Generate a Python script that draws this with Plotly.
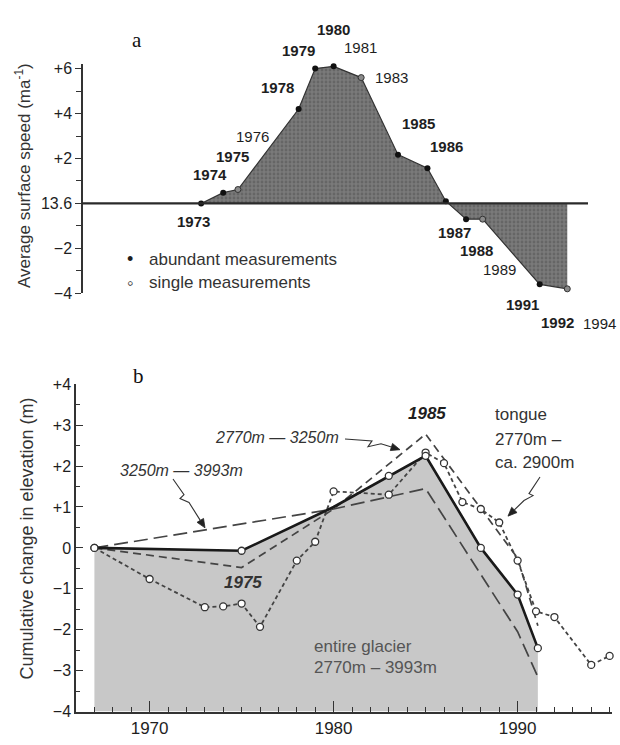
import math
import plotly.graph_objects as go

W, H = 620, 745

# ---------------- Panel a: average surface speed (deviation from 13.6 m/a) ----------------
speed_years = [1972.8, 1974.0, 1974.8, 1978.1, 1979.0, 1980.0, 1981.5, 1983.5,
               1985.1, 1986.1, 1987.2, 1988.1, 1991.2, 1992.7]
speed_anom = [0.0, 0.48, 0.62, 4.2, 6.0, 6.1, 5.6, 2.17,
              1.57, 0.1, -0.7, -0.7, -3.6, -3.8]
speed_single = [False, False, True, False, False, False, True, False,
                False, False, False, True, False, True]
speed_tickvals = [-4, -2, 0, 2, 4, 6]
speed_ticktext = ["\u22124", "\u22122", "13.6", "+2", "+4", "+6"]

year_labels = ["1973", "1974", "1975", "1976", "1978", "1979", "1980", "1981", "1983",
               "1985", "1986", "1987", "1988", "1989", "1991", "1992", "1994"]
year_label_bold = [True, True, True, False, True, True, True, False, False,
                   True, True, True, True, False, True, True, False]

# ---------------- Panel b: cumulative change in elevation (m) ----------------
glacier_years = [1967, 1975, 1980, 1983, 1985, 1988, 1990, 1991.1]
glacier_change = [0.0, -0.07, 1.0, 1.76, 2.25, 0.0, -1.14, -2.45]
glacier_circle = [True, True, False, True, True, True, True, True]

upper_years = [1967, 1980, 1985, 1990, 1991.1]          # 3250m - 3993m
upper_change = [0.0, 0.95, 1.45, -2.05, -3.15]

middle_years = [1967, 1975, 1980, 1985, 1990, 1991.1]   # 2770m - 3250m
middle_change = [0.0, -0.48, 0.95, 2.78, -0.25, -1.9]

tongue_years = [1967, 1970, 1973, 1974, 1975, 1976, 1978, 1979, 1980, 1983,
                1985, 1986, 1987, 1988, 1989, 1990, 1991, 1992, 1994, 1995]
tongue_change = [0.0, -0.76, -1.45, -1.43, -1.36, -1.93, -0.31, 0.15, 1.38, 1.3,
                 2.33, 2.07, 1.12, 0.95, 0.62, -0.31, -1.55, -1.69, -2.86, -2.64]

elev_tickvals = [-4, -3, -2, -1, 0, 1, 2, 3, 4]
elev_ticktext = ["\u22124", "\u22123", "\u22122", "\u22121", "0", "+1", "+2", "+3", "+4"]
year_tickvals = [1970, 1980, 1990]

X_RANGE = [1966, 1995.13]
YA_RANGE = [-4, 6.2]


# ---------------- layout helpers (window pixel -> paper) ----------------
def P(x, y):
    return x / W, 1 - y / H


SANS = "Liberation Sans, Arial, Helvetica, sans-serif"
SERIF = "Liberation Serif, Times New Roman, serif"
DARK = "#1e1e1e"

fig = go.Figure()

# ---- panel a traces ----
fig.add_trace(go.Scatter(
    x=speed_years, y=speed_anom, mode="lines", fill="tozeroy",
    fillcolor="#767676",
    fillpattern=dict(shape=".", bgcolor="#7a7a7a", fgcolor="#505050", size=4, solidity=0.4),
    line=dict(color="#333333", width=1.2),
    xaxis="x", yaxis="y", showlegend=False, hoverinfo="skip"))

ab_x = [x for x, s in zip(speed_years, speed_single) if not s]
ab_y = [y for y, s in zip(speed_anom, speed_single) if not s]
si_x = [x for x, s in zip(speed_years, speed_single) if s]
si_y = [y for y, s in zip(speed_anom, speed_single) if s]
fig.add_trace(go.Scatter(x=ab_x, y=ab_y, mode="markers", cliponaxis=False,
                         marker=dict(size=6, color="#111111"),
                         xaxis="x", yaxis="y", showlegend=False))
fig.add_trace(go.Scatter(x=si_x, y=si_y, mode="markers", cliponaxis=False,
                         marker=dict(size=6, color="#8a8a8a", line=dict(color="#333333", width=1)),
                         xaxis="x", yaxis="y", showlegend=False))

# ---- panel b traces ----
fill_x = [glacier_years[0]] + glacier_years + [glacier_years[-1]]
fill_y = [-4] + glacier_change + [-4]
fig.add_trace(go.Scatter(x=fill_x, y=fill_y, mode="lines", fill="toself",
                         fillcolor="#c8c8c8", line=dict(width=0),
                         xaxis="x2", yaxis="y2", showlegend=False, hoverinfo="skip"))

fig.add_trace(go.Scatter(x=upper_years, y=upper_change, mode="lines",
                         line=dict(color="#444444", width=1.7, dash="14px,6px"),
                         xaxis="x2", yaxis="y2", showlegend=False))
fig.add_trace(go.Scatter(x=middle_years, y=middle_change, mode="lines",
                         line=dict(color="#444444", width=1.7, dash="8px,5px"),
                         xaxis="x2", yaxis="y2", showlegend=False))
fig.add_trace(go.Scatter(x=tongue_years, y=tongue_change, mode="lines+markers",
                         cliponaxis=False,
                         line=dict(color="#444444", width=1.8, dash="4px,3px"),
                         marker=dict(size=7, color="white", line=dict(color="#333333", width=1.3)),
                         xaxis="x2", yaxis="y2", showlegend=False))
fig.add_trace(go.Scatter(x=glacier_years, y=glacier_change, mode="lines",
                         line=dict(color="#1a1a1a", width=2.6),
                         xaxis="x2", yaxis="y2", showlegend=False))
gc_x = [x for x, c in zip(glacier_years, glacier_circle) if c]
gc_y = [y for y, c in zip(glacier_change, glacier_circle) if c]
fig.add_trace(go.Scatter(x=gc_x, y=gc_y, mode="markers", cliponaxis=False,
                         marker=dict(size=7, color="white", line=dict(color="#333333", width=1.3)),
                         xaxis="x2", yaxis="y2", showlegend=False))

# ---------------- axes ----------------
xa0, _ = P(76, 0)
xa1, _ = P(612, 0)
_, ya_bot = P(0, 292)
_, ya_top = P(0, 62 - 0.2 * 23)
_, yb_bot = P(0, 720)
_, yb_top = P(0, 385)
ya_pos, _ = P(82, 0)

tickfont = dict(family=SANS, size=16, color=DARK)

fig.update_layout(
    width=W, height=H, autosize=False,
    margin=dict(l=0, r=0, t=0, b=0),
    paper_bgcolor="white", plot_bgcolor="rgba(0,0,0,0)",
    showlegend=False,
    xaxis=dict(domain=[xa0, xa1], range=X_RANGE, visible=False, anchor="y", fixedrange=True),
    yaxis=dict(domain=[ya_bot, ya_top], range=YA_RANGE, anchor="free", position=ya_pos,
               showline=True, linecolor="#333333", linewidth=1.5,
               ticks="outside", ticklen=6, tickwidth=1.3, tickcolor="#333333",
               tickvals=speed_tickvals, ticktext=speed_ticktext, tickfont=tickfont,
               minor=dict(tickvals=[-3, -1, 1, 3, 5], ticks="outside", ticklen=5,
                          tickwidth=1.2, tickcolor="#333333"),
               showgrid=False, zeroline=False),
    xaxis2=dict(domain=[xa0, xa1], range=X_RANGE, anchor="y2",
                showline=True, linecolor="#333333", linewidth=1.5,
                ticks="inside", ticklen=11, tickwidth=1.3, tickcolor="#333333",
                tickvals=year_tickvals, tickfont=dict(family=SANS, size=17, color=DARK),
                minor=dict(dtick=1, tick0=1966, ticks="inside", ticklen=5,
                           tickwidth=1.1, tickcolor="#333333"),
                showgrid=False, zeroline=False),
    yaxis2=dict(domain=[yb_bot, yb_top], range=[-4, 4], anchor="x2",
                showline=True, linecolor="#333333", linewidth=1.5,
                ticks="inside", ticklen=7, tickwidth=1.3, tickcolor="#333333",
                tickvals=elev_tickvals, ticktext=elev_ticktext, tickfont=tickfont,
                minor=dict(dtick=0.5, tick0=0, ticks="inside", ticklen=4,
                           tickwidth=1.1, tickcolor="#333333"),
                showgrid=False, zeroline=False),
)

# baseline (13.6 m/a) in panel a
bx0, _ = P(82, 0)
bx1, _ = P(588, 0)
fig.add_shape(type="line", xref="paper", yref="y", x0=bx0, x1=bx1, y0=0, y1=0,
              line=dict(color="#2a2a2a", width=2.2))

ann = []


def text(t, x, y, size=16, xanchor="center", yanchor="middle", family=SANS, color=DARK, angle=0):
    px, py = P(x, y)
    ann.append(dict(text=t, x=px, y=py, xref="paper", yref="paper", showarrow=False,
                    xanchor=xanchor, yanchor=yanchor, textangle=angle,
                    font=dict(family=family, size=size, color=color)))


# panel a year labels (window-pixel positions of label centres)
label_pos = [(193, 218), (210, 170), (232, 152), (252, 132), (277, 81), (298, 43),
             (333, 22), (360, 40), (392, 71), (418, 118), (446, 142), (454, 230),
             (476, 248), (499, 268), (522, 303), (557, 322), (599, 323)]
for lab, bold, (lx, ly) in zip(year_labels, year_label_bold, label_pos):
    text("<b>%s</b>" % lab if bold else lab, lx, ly, size=15)

text("a", 137, 33, size=21, family=SERIF, color="#111111")
text("b", 138, 377, size=21, family=SERIF, color="#111111")

# legend for panel a
text("\u2022", 130, 257, size=18)
text("abundant measurements", 147, 257, size=17, xanchor="left", color="#333333")
text("\u25e6", 130, 281, size=18)
text("single measurements", 147, 281, size=17, xanchor="left", color="#333333")

# axis titles
text("Average surface speed (ma<sup>-1</sup>)", 23, 172, size=17, angle=-90, color="#333333")
text("Cumulative change in elevation (m)", 27, 543, size=18, angle=-90, color="#333333")

# panel b labels
text("<b><i>1985</i></b>", 427, 415, size=17)
text("<b><i>1975</i></b>", 243, 588, size=17, color="#333333")
text("<i>2770m \u2014 3250m</i>", 341, 440, size=16, xanchor="right", color="#333333")
text("<i>3250m \u2014 3993m</i>", 182, 473, size=16, color="#333333")
text("tongue", 493, 416, size=17, xanchor="left", color="#333333")
text("2770m \u2013", 493, 442, size=17, xanchor="left", color="#333333")
text("ca. 2900m", 493, 465, size=17, xanchor="left", color="#333333")
text("entire glacier", 312, 653, size=17, xanchor="left", color="#555555")
text("2770m \u2013 3993m", 312, 675, size=17, xanchor="left", color="#555555")


def path_of(pts, close=False):
    d = ""
    for i, (x, y) in enumerate(pts):
        px, py = P(x, y)
        d += ("M" if i == 0 else " L") + " %.5f,%.5f" % (px, py)
    return d + (" Z" if close else "")


# squiggly pointer lines with arrowheads
def squiggle(points, tip):
    lx, ly = points[-1]
    tx, ty = tip
    dx, dy = tx - lx, ty - ly
    L = math.hypot(dx, dy)
    ux, uy = dx / L, dy / L
    bxp, byp = tx - ux * 9, ty - uy * 9
    fig.add_shape(type="path", xref="paper", yref="paper",
                  path=path_of(points + [(bxp, byp)]),
                  line=dict(color="#333333", width=1.1))
    nx, ny = -uy, ux
    tri = [(tx, ty), (bxp + nx * 3.8, byp + ny * 3.8), (bxp - nx * 3.8, byp - ny * 3.8)]
    fig.add_shape(type="path", xref="paper", yref="paper", path=path_of(tri, close=True),
                  fillcolor="#222222", line=dict(color="#222222", width=0.8))


squiggle([(345, 441), (372, 443), (368, 449), (381, 446)], (400, 452))
squiggle([(173, 482), (184, 498), (180, 502), (189, 506)], (205, 532))
squiggle([(540, 480), (529, 497), (533, 499), (524, 504)], (508, 520))

fig.update_layout(annotations=ann)

# remove the default page margin so the 620x745 figure fills the window exactly
fig.write_html("out.html",
               config={"displayModeBar": False},
               post_script="document.body.style.margin='0';"
                           "document.body.style.overflow='hidden';")
